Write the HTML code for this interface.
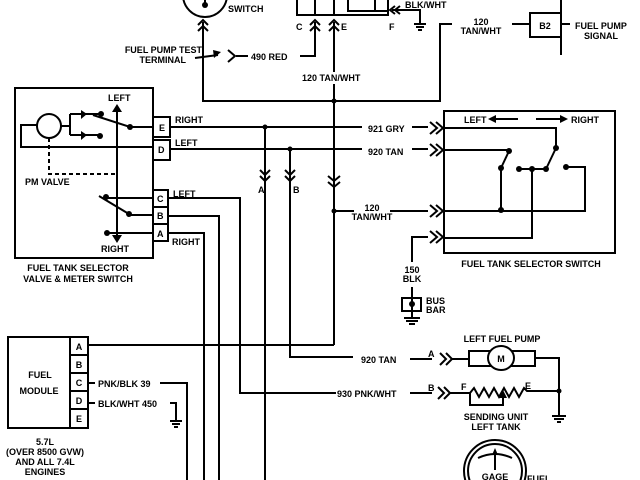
<!DOCTYPE html>
<html><head><meta charset="utf-8"><style>
html,body{margin:0;padding:0;background:#fff;}
svg{display:block;}
text{font-family:"Liberation Sans",sans-serif;font-weight:bold;font-size:9px;fill:#000;}
</style></head><body>
<svg width="640" height="480" viewBox="0 0 640 480" xmlns="http://www.w3.org/2000/svg">
<g fill="none" stroke="#000" stroke-width="2">
<circle cx="205" cy="-5" r="22"/>
<line x1="205" y1="-10" x2="205" y2="5"/>
<polyline points="198,25 203,20 208,25"/><polyline points="198,31 203,26 208,31"/>
<polyline points="203,22 203,101 440,101 440,24 452,24"/>
<polyline points="297,0 297,15 388,15 388,0"/>
<polyline points="348,0 348,11 388,11"/>
<line x1="315" y1="0" x2="315" y2="15"/><line x1="334" y1="0" x2="334" y2="15"/>
<line x1="375" y1="0" x2="375" y2="11"/>
<polyline points="310,25 315,20 320,25"/><polyline points="310,31 315,26 320,31"/>
<polyline points="329,25 334,20 339,25"/><polyline points="329,31 334,26 339,31"/>
<polyline points="315,22 315,56 300,56"/>
<line x1="334" y1="22" x2="334" y2="72"/><line x1="334" y1="84" x2="334" y2="345"/>
<polyline points="395,6 390,10 395,14"/><polyline points="400,6 395,10 400,14"/>
<polyline points="392,10 420,10 420,24"/>
<line x1="414" y1="24" x2="426" y2="24"/><line x1="416" y1="27" x2="424" y2="27"/><line x1="418" y1="30" x2="422" y2="30"/>
<line x1="236" y1="56" x2="248" y2="56"/>
<polyline points="228,50 235,56 228,62"/>
<line x1="195" y1="58" x2="218" y2="55"/>
<line x1="512" y1="24" x2="530" y2="24"/>
<rect x="530" y="13" width="31" height="24"/>
<line x1="561" y1="0" x2="561" y2="55"/><line x1="561" y1="24" x2="570" y2="24"/>
<rect x="15" y="88" width="138" height="170"/>
<rect x="153" y="117" width="17" height="20"/><rect x="153" y="140" width="17" height="20"/>
<rect x="153" y="190" width="15" height="17"/><rect x="153" y="207" width="15" height="17"/><rect x="153" y="224" width="15" height="17"/>
<circle cx="49" cy="126" r="12"/>
<polyline points="37,125 21,125 21,147 153,147"/>
<polyline points="70,114 70,135"/><line x1="61" y1="126" x2="70" y2="126"/>
<line x1="70" y1="114" x2="101" y2="114"/><line x1="70" y1="135" x2="100" y2="135"/>
<line x1="93" y1="115" x2="130" y2="127"/><line x1="130" y1="127" x2="153" y2="127"/>
<line x1="117" y1="108" x2="117" y2="238"/>
<path d="M49 138 V174 H117" stroke-dasharray="4,3"/>
<line x1="106" y1="198" x2="153" y2="198"/>
<line x1="99" y1="196" x2="129" y2="214"/><line x1="129" y1="215" x2="153" y2="215"/>
<line x1="107" y1="233" x2="153" y2="233"/>
<line x1="170" y1="127" x2="362" y2="127"/><line x1="412" y1="127" x2="428" y2="127"/>
<line x1="170" y1="149" x2="362" y2="149"/><line x1="412" y1="149" x2="428" y2="149"/>
<polyline points="168,198 240,198 240,393 336,393"/>
<polyline points="168,216 219,216 219,480"/>
<polyline points="168,233 204,233 204,480"/>
<line x1="265" y1="127" x2="265" y2="480"/>
<polyline points="260,170 265,175 270,170"/><polyline points="260,176 265,181 270,176"/>
<polyline points="290,149 290,357 353,357"/>
<polyline points="285,170 290,175 295,170"/><polyline points="285,176 290,181 295,176"/>
<polyline points="328,176 334,181 340,176"/><polyline points="328,182 334,187 340,182"/>
<line x1="334" y1="211" x2="354" y2="211"/><line x1="390" y1="211" x2="428" y2="211"/>
<polyline points="334,345 88,345"/>
<polyline points="430,122 437,128 430,134"/><polyline points="436,122 443,128 436,134"/>
<polyline points="430,144 437,150 430,156"/><polyline points="436,144 443,150 436,156"/>
<polyline points="430,205 437,211 430,217"/><polyline points="436,205 443,211 436,217"/>
<polyline points="430,231 437,237 430,243"/><polyline points="436,231 443,237 436,243"/>
<polyline points="428,237 412,237 412,262"/>
<rect x="444" y="111" width="171" height="142"/>
<line x1="494" y1="119" x2="518" y2="119"/><line x1="536" y1="119" x2="560" y2="119"/>
<polyline points="444,128 556,128 556,148"/>
<polyline points="444,150 509,150"/>
<line x1="509" y1="151" x2="501" y2="168"/>
<polyline points="501,168 501,210"/>
<line x1="556" y1="148" x2="546" y2="169"/>
<line x1="519" y1="169" x2="546" y2="169"/>
<polyline points="532,169 532,238 444,238"/>
<polyline points="566,167 585,167 585,211 444,211"/>
<line x1="412" y1="287" x2="412" y2="318"/>
<rect x="402" y="298" width="19" height="13"/>
<line x1="404" y1="318" x2="420" y2="318"/><line x1="406" y1="321" x2="418" y2="321"/><line x1="409" y1="324" x2="415" y2="324"/>
<line x1="410" y1="359" x2="432" y2="359"/>
<polyline points="440,353 446,359 440,365"/><polyline points="446,353 452,359 446,365"/>
<line x1="452" y1="359" x2="469" y2="359"/>
<rect x="469" y="351" width="66" height="15"/>
<ellipse cx="501" cy="358" rx="13" ry="12" fill="#fff"/>
<polyline points="535,358 559,358 559,415"/>
<line x1="552" y1="416" x2="566" y2="416"/><line x1="554" y1="419" x2="564" y2="419"/><line x1="557" y1="422" x2="561" y2="422"/>
<line x1="410" y1="393" x2="432" y2="393"/>
<polyline points="438,387 444,393 438,399"/><polyline points="444,387 450,393 444,399"/>
<polyline points="450,393 470,393 474,388 479,397 484,388 489,397 494,388 499,397 504,388 509,397 514,388 519,397 524,388 527,391 559,391"/>
<polyline points="470,393 470,405 503,405 503,396"/>
<rect x="8" y="337" width="62" height="91"/>
<rect x="70" y="337" width="18" height="91"/>
<line x1="70" y1="355" x2="88" y2="355"/><line x1="70" y1="373" x2="88" y2="373"/><line x1="70" y1="391" x2="88" y2="391"/><line x1="70" y1="409" x2="88" y2="409"/>
<line x1="88" y1="383" x2="95" y2="383"/><line x1="88" y1="403" x2="95" y2="403"/>
<polyline points="160,383 187,383 187,480"/>
<polyline points="170,403 176,403 176,420"/>
<line x1="170" y1="421" x2="182" y2="421"/><line x1="172" y1="424" x2="180" y2="424"/><line x1="174" y1="427" x2="178" y2="427"/>
<circle cx="495" cy="471" r="31"/><circle cx="495" cy="471" r="27"/>
<path d="M478 458 Q495 450 512 458"/>
<line x1="495" y1="452" x2="495" y2="470"/>
</g>
<g fill="#000">
<circle cx="205" cy="5" r="3"/>
<circle cx="334" cy="101" r="2.5"/><circle cx="334" cy="211" r="2.5"/>
<circle cx="265" cy="127" r="2.5"/><circle cx="290" cy="149" r="2.5"/>
<circle cx="101" cy="114" r="3"/><circle cx="100" cy="136" r="3"/><circle cx="130" cy="127" r="3"/>
<circle cx="106" cy="197" r="3"/><circle cx="129" cy="214" r="3"/><circle cx="107" cy="233" r="3"/>
<polygon points="81,110 81,119 87,114"/><polygon points="81,131 81,140 87,135"/>
<polygon points="117,104 112,112 122,112"/><polygon points="117,243 112,235 122,235"/>
<polygon points="221,52 213,50 214,58"/>
<circle cx="509" cy="151" r="3"/><circle cx="501" cy="168" r="3"/><circle cx="519" cy="169" r="3"/><circle cx="532" cy="169" r="3"/>
<circle cx="546" cy="169" r="3"/><circle cx="556" cy="148" r="3"/><circle cx="566" cy="167" r="3"/><circle cx="501" cy="210" r="3"/>
<polygon points="488,119 496,115 496,123"/><polygon points="568,119 560,115 560,123"/>
<circle cx="412" cy="304" r="3"/><circle cx="559" cy="391" r="2.5"/>
<polygon points="503,390 499,398 507,398"/><polygon points="495,448 492,455 498,455"/>
</g>
<text x="228" y="12">SWITCH</text>
<text x="296" y="30">C</text><text x="341" y="30">E</text><text x="389" y="30">F</text>
<text x="405" y="8">BLK/WHT</text>
<text x="202" y="53" text-anchor="end">FUEL PUMP TEST</text>
<text x="186" y="63" text-anchor="end">TERMINAL</text>
<text x="251" y="60">490 RED</text>
<text x="302" y="81">120 TAN/WHT</text>
<text x="481" y="25" text-anchor="middle">120</text><text x="481" y="34" text-anchor="middle">TAN/WHT</text>
<text x="545" y="29" text-anchor="middle">B2</text>
<text x="575" y="29">FUEL PUMP</text><text x="584" y="39">SIGNAL</text>
<text x="108" y="101">LEFT</text>
<text x="159" y="131" font-size="8">E</text><text x="158" y="153" font-size="8">D</text>
<text x="157" y="202" font-size="8">C</text><text x="157" y="219" font-size="8">B</text><text x="157" y="237" font-size="8">A</text>
<text x="175" y="123">RIGHT</text><text x="175" y="146">LEFT</text>
<text x="173" y="197">LEFT</text><text x="172" y="245">RIGHT</text>
<text x="25" y="185">PM VALVE</text>
<text x="101" y="252">RIGHT</text>
<text x="78" y="271" text-anchor="middle">FUEL TANK SELECTOR</text>
<text x="78" y="282" text-anchor="middle">VALVE &amp; METER SWITCH</text>
<text x="258" y="193">A</text><text x="293" y="193">B</text>
<text x="368" y="132">921  GRY</text><text x="368" y="155">920  TAN</text>
<text x="372" y="211" text-anchor="middle">120</text><text x="372" y="220" text-anchor="middle">TAN/WHT</text>
<text x="464" y="123">LEFT</text><text x="571" y="123">RIGHT</text>
<text x="531" y="267" text-anchor="middle">FUEL TANK SELECTOR SWITCH</text>
<text x="412" y="273" text-anchor="middle">150</text><text x="412" y="282" text-anchor="middle">BLK</text>
<text x="426" y="304">BUS</text><text x="426" y="313">BAR</text>
<text x="502" y="342" text-anchor="middle">LEFT FUEL PUMP</text>
<text x="501" y="362" text-anchor="middle" font-size="8">M</text>
<text x="361" y="363">920  TAN</text><text x="428" y="357">A</text>
<text x="337" y="397">930 PNK/WHT</text><text x="428" y="391">B</text>
<text x="461" y="390">F</text><text x="525" y="389">E</text>
<text x="496" y="420" text-anchor="middle">SENDING UNIT</text><text x="496" y="430" text-anchor="middle">LEFT TANK</text>
<text x="495" y="480" text-anchor="middle" font-size="7">GAGE</text>
<text x="527" y="482">FUEL</text>
<text x="79" y="350" text-anchor="middle" font-size="8">A</text><text x="79" y="368" text-anchor="middle" font-size="8">B</text>
<text x="79" y="386" text-anchor="middle" font-size="8">C</text><text x="79" y="404" text-anchor="middle" font-size="8">D</text>
<text x="79" y="422" text-anchor="middle" font-size="8">E</text>
<text x="40" y="378" text-anchor="middle">FUEL</text><text x="39" y="394" text-anchor="middle">MODULE</text>
<text x="98" y="387">PNK/BLK 39</text><text x="98" y="407">BLK/WHT 450</text>
<text x="45" y="445" text-anchor="middle">5.7L</text>
<text x="45" y="455" text-anchor="middle">(OVER 8500 GVW)</text>
<text x="45" y="465" text-anchor="middle">AND ALL 7.4L</text>
<text x="45" y="475" text-anchor="middle">ENGINES</text>
</svg>
</body></html>
